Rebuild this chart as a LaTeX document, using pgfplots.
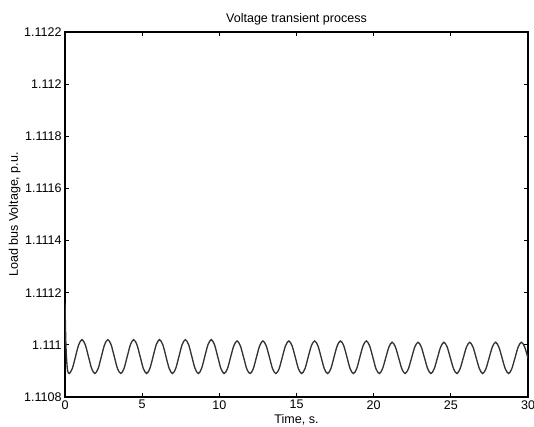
\documentclass[border=0pt]{standalone}
\usepackage{fontspec}
\setmainfont{Liberation Sans}
\usepackage{pgfplots}
\pgfplotsset{compat=1.18}
\usepackage{pgfplotstable}

\pgfplotstableread{
t v
0 1.11116
0.06 1.11100
0.15 1.11091
0.263 1.110890
0.472 1.110909
0.681 1.110955
0.891 1.111001
1.100 1.111020
1.309 1.111001
1.519 1.110955
1.728 1.110909
1.938 1.110890
2.147 1.110909
2.356 1.110955
2.566 1.111001
2.775 1.111020
2.984 1.111001
3.194 1.110955
3.403 1.110909
3.613 1.110890
3.822 1.110909
4.031 1.110955
4.241 1.111001
4.450 1.111020
4.659 1.111001
4.869 1.110955
5.078 1.110909
5.288 1.110890
5.497 1.110909
5.706 1.110955
5.916 1.111001
6.125 1.111020
6.334 1.111001
6.544 1.110955
6.753 1.110909
6.963 1.110890
7.172 1.110909
7.381 1.110955
7.591 1.111001
7.800 1.111020
8.009 1.111001
8.219 1.110955
8.428 1.110909
8.638 1.110890
8.847 1.110909
9.056 1.110955
9.266 1.111001
9.475 1.111020
9.684 1.111001
9.894 1.110955
10.103 1.110909
10.313 1.110890
10.522 1.110908
10.731 1.110953
10.941 1.110997
11.150 1.111015
11.359 1.110997
11.569 1.110953
11.778 1.110908
11.988 1.110890
12.197 1.110908
12.406 1.110953
12.616 1.110997
12.825 1.111015
13.034 1.110997
13.244 1.110953
13.453 1.110908
13.663 1.110890
13.872 1.110908
14.081 1.110953
14.291 1.110997
14.500 1.111015
14.709 1.110997
14.919 1.110953
15.128 1.110908
15.338 1.110890
15.547 1.110908
15.756 1.110953
15.966 1.110997
16.175 1.111015
16.384 1.110997
16.594 1.110953
16.803 1.110908
17.013 1.110890
17.222 1.110908
17.431 1.110953
17.641 1.110997
17.850 1.111015
18.059 1.110997
18.269 1.110953
18.478 1.110908
18.688 1.110890
18.897 1.110908
19.106 1.110953
19.316 1.110997
19.525 1.111015
19.734 1.110997
19.944 1.110953
20.153 1.110908
20.363 1.110890
20.572 1.110908
20.781 1.110950
20.991 1.110992
21.200 1.111010
21.409 1.110992
21.619 1.110950
21.828 1.110908
22.038 1.110890
22.247 1.110908
22.456 1.110950
22.666 1.110992
22.875 1.111010
23.084 1.110992
23.294 1.110950
23.503 1.110908
23.713 1.110890
23.922 1.110908
24.131 1.110950
24.341 1.110992
24.550 1.111010
24.759 1.110992
24.969 1.110950
25.178 1.110908
25.388 1.110890
25.597 1.110908
25.806 1.110950
26.016 1.110992
26.225 1.111010
26.434 1.110992
26.644 1.110950
26.853 1.110908
27.063 1.110890
27.272 1.110908
27.481 1.110950
27.691 1.110992
27.900 1.111010
28.109 1.110992
28.319 1.110950
28.528 1.110908
28.738 1.110890
28.947 1.110908
29.156 1.110950
29.366 1.110992
29.575 1.111010
29.784 1.110992
29.994 1.110950
30.000 1.110949
}\voltdata

\begin{document}
\begin{tikzpicture}
\begin{axis}[
  scale only axis,
  width=347.25pt, height=273.75pt,
  xmin=0, xmax=30, ymin=1.1108, ymax=1.1122,
  xtick={0,5,10,15,20,25,30},
  ytick={1.1108,1.111,1.1112,1.1114,1.1116,1.1118,1.112,1.1122},
  yticklabels={1.1108,1.111,1.1112,1.1114,1.1116,1.1118,1.112,1.1122},
  scaled y ticks=false,
  /pgf/number format/assume math mode=true,
  tick align=inside,
  tick pos=both,
  major tick length=3pt,
  tick style={black, line width=0.6pt},
  axis line style={black, line width=0.8pt},
  ticklabel style={font=\fontsize{9.4}{11}\selectfont},
  title={Voltage transient process},
  title style={font=\fontsize{9.4}{11}\selectfont, yshift=-4pt},
  xlabel={Time, s.},
  ylabel={Load bus Voltage, p.u.},
  label style={font=\fontsize{9.4}{11}\selectfont},
  xlabel style={yshift=3pt},
  ylabel style={yshift=-4pt},
  xticklabel style={yshift=1pt},
  yticklabel style={xshift=1pt},
]
\addplot[black!80, line width=1pt, smooth] table[x=t, y=v] {\voltdata};
\end{axis}
\pgfresetboundingbox
\path[use as bounding box] ([shift={(-48.75pt,-22.5pt)}]current axis.south west) rectangle ([shift={(4.5pt,24pt)}]current axis.north east);
\end{tikzpicture}
\end{document}
